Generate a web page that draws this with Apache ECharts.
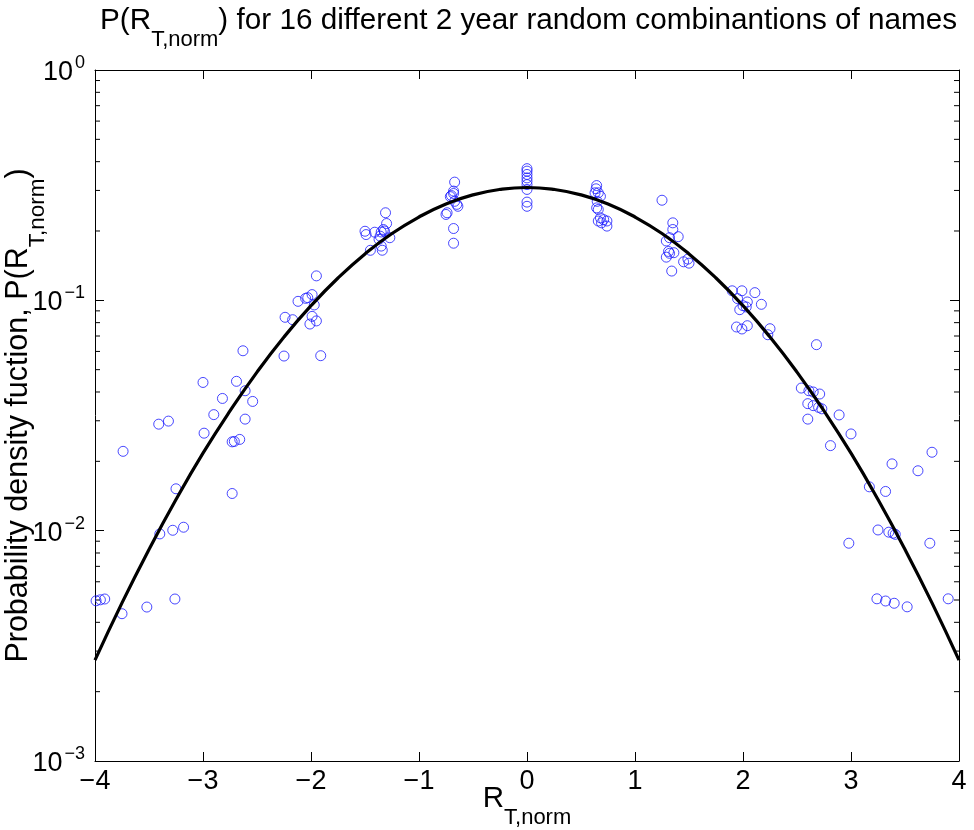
<!DOCTYPE html>
<html>
<head>
<meta charset="utf-8">
<script src="https://cdn.jsdelivr.net/npm/echarts@6.0.0/dist/echarts.min.js"></script>
<style>
  html, body { margin: 0; padding: 0; background: #fff; }
  #chart { width: 974px; height: 830px; }
</style>
</head>
<body>
<div id="chart"></div>
<script>
var ptsX = [
  -3.99, -3.95, -3.91, -3.75, -3.74, -3.52, -3.41, -3.40, -3.32, -3.28, -3.26, -3.25, -3.18,
  -3.00, -2.99, -2.90, -2.82, -2.73, -2.73, -2.71, -2.69, -2.66, -2.63, -2.61, -2.61, -2.54,
  -2.25, -2.24, -2.17, -2.12, -2.05, -2.03, -2.01, -1.99, -1.99, -1.97, -1.95, -1.95, -1.91,
  -1.50, -1.49, -1.45, -1.41, -1.37, -1.36, -1.35, -1.35, -1.34, -1.33, -1.32, -1.31, -1.30, -1.27,
  -0.75, -0.74, -0.71, -0.70, -0.68, -0.68, -0.68, -0.68, -0.67, -0.67, -0.65, -0.64,
  0, 0, 0, 0, 0, 0, 0, 0, 0,
  0.63, 0.64, 0.645, 0.645, 0.65, 0.66, 0.66, 0.66, 0.68, 0.68, 0.69, 0.71, 0.74, 0.74,
  1.25, 1.29, 1.29, 1.31, 1.32, 1.32, 1.34, 1.35, 1.35, 1.36, 1.40, 1.45, 1.49, 1.50,
  1.90, 1.99, 2.11, 1.95, 2.04, 2.17, 2.00, 2.03, 1.97, 1.94, 1.99, 2.04, 2.25, 2.23,
  2.68, 2.54, 2.61, 2.65, 2.71, 2.60, 2.65, 2.70, 2.73, 2.89, 2.60, 3.00, 2.81,
  3.75, 3.38, 3.62, 3.17, 3.32, 3.25, 3.35, 3.39, 3.41, 2.98, 3.73, 3.24, 3.32, 3.40, 3.52, 3.90
];
var ptsY = [
  0.00496, 0.00501, 0.00505, 0.00436, 0.0221, 0.00466, 0.0290, 0.00968, 0.0299, 0.01004, 0.00505, 0.0152, 0.01035,
  0.0440, 0.0265, 0.0319, 0.0375, 0.0145, 0.0243, 0.0244, 0.0445, 0.0249, 0.0604, 0.0405, 0.0305, 0.0364,
  0.0573, 0.0844, 0.0824, 0.0990, 0.1020, 0.1027, 0.0789, 0.1059, 0.0852, 0.0955, 0.1277, 0.0814, 0.0575,
  0.1995, 0.1930, 0.1649, 0.1976, 0.184, 0.190, 0.198, 0.172, 0.165, 0.203, 0.200, 0.240, 0.2155, 0.187,
  0.236, 0.240, 0.282, 0.285, 0.298, 0.205, 0.177, 0.291, 0.326, 0.269, 0.261, 0.256,
  0.373, 0.364, 0.352, 0.340, 0.329, 0.318, 0.303, 0.267, 0.256,
  0.293, 0.305, 0.315, 0.252, 0.269, 0.293, 0.248, 0.221, 0.283, 0.228, 0.217, 0.224, 0.221, 0.210,
  0.272, 0.181, 0.154, 0.163, 0.187, 0.160, 0.134, 0.217, 0.203, 0.161, 0.189, 0.147, 0.151, 0.145,
  0.110, 0.110, 0.108, 0.1017, 0.0984, 0.0961, 0.0948, 0.0936, 0.0911, 0.0766, 0.0751, 0.0776, 0.0753, 0.0709,
  0.0642, 0.0416, 0.0405, 0.0400, 0.0392, 0.0356, 0.0349, 0.0343, 0.0338, 0.0318, 0.0305, 0.0263, 0.0234,
  0.0219, 0.0195, 0.0182, 0.0155, 0.0148, 0.01007, 0.00985, 0.00975, 0.00964, 0.00882, 0.00882, 0.00506, 0.00495, 0.00484, 0.00467, 0.00506
];

// fitted curve
var curveX = [-4, -3.75, -3.5, -3.25, -3, -2.75, -2.5, -2.25, -2, -1.75, -1.5, -1.25, -1, -0.75, -0.5, -0.25,
  0, 0.25, 0.5, 0.75, 1, 1.25, 1.5, 1.75, 2, 2.25, 2.5, 2.75, 3, 3.25, 3.5, 3.75, 4];
var curveY = [0.00274, 0.00486, 0.00829, 0.01365, 0.0217, 0.0331, 0.0488, 0.0693, 0.0948, 0.125, 0.159, 0.195, 0.230, 0.262, 0.287, 0.303,
  0.309, 0.303, 0.287, 0.262, 0.230, 0.195, 0.159, 0.125, 0.0948, 0.0693, 0.0488, 0.0331, 0.0217, 0.01365, 0.00829, 0.00486, 0.00274];

var xMin = -4, xMax = 4;
var minorTicks = [0.002, 0.003, 0.004, 0.005, 0.006, 0.007, 0.008, 0.009,
  0.02, 0.03, 0.04, 0.05, 0.06, 0.07, 0.08, 0.09,
  0.2, 0.3, 0.4, 0.5, 0.6, 0.7, 0.8, 0.9];

var font = 'Liberation Sans, Arial, sans-serif';

// normal text + lowered subscript
function subRich(size, subSize, subLine) {
  return {
    n: { fontFamily: font, fontSize: size, fontWeight: 'normal', color: '#000', lineHeight: size + 4, verticalAlign: 'top' },
    s: { fontFamily: font, fontSize: subSize, fontWeight: 'normal', color: '#000', lineHeight: subLine, verticalAlign: 'bottom' }
  };
}

function pairs(xs, ys) {
  var out = [];
  for (var i = 0; i < xs.length; i++) out.push([xs[i], ys[i]]);
  return out;
}

function xLabel(v) {
  return v < 0 ? '\u2212' + Math.abs(v) : String(v);
}

function yLabel(v) {
  var e = Math.round(Math.log10(v));
  return '{b|10}{e|' + (e < 0 ? '\u2212' + Math.abs(e) : e) + '}';
}

var chart = echarts.init(document.getElementById('chart'));

var axisBase = {
  axisLine: { show: true, onZero: false, lineStyle: { color: '#000', width: 1 } },
  axisTick: { show: true, inside: true, length: 9, lineStyle: { color: '#000' } },
  splitLine: { show: false }
};

chart.setOption({
  animation: false,
  backgroundColor: '#fff',
  title: {
    text: '{n|P(R}{s|T,norm}{n|) for 16 different 2 year random combinantions of names}',
    left: 95,
    top: 1,
    textStyle: { fontWeight: 'normal', rich: subRich(29.7, 22, 45) }
  },
  grid: { left: 95, right: 15, top: 70, bottom: 69, containLabel: false, outerBoundsMode: 'none' },
  xAxis: [
    Object.assign({}, axisBase, {
      type: 'value', min: xMin, max: xMax, interval: 1, position: 'bottom',
      axisLabel: { fontFamily: font, fontSize: 27, color: '#000', margin: 7, formatter: xLabel },
      name: '{n|R}{s|T,norm}',
      nameLocation: 'middle',
      nameGap: 23,
      nameMoveOverlap: false,
      nameTextStyle: { rich: subRich(29.5, 22, 45) }
    }),
    Object.assign({}, axisBase, {
      type: 'value', min: xMin, max: xMax, interval: 1, position: 'top',
      axisLabel: { show: false }
    })
  ],
  yAxis: [
    Object.assign({}, axisBase, {
      type: 'log', logBase: 10, min: 0.001, max: 1, position: 'left',
      axisLabel: {
        margin: 10,
        formatter: yLabel,
        rich: {
          b: { fontFamily: font, fontSize: 27, color: '#000', lineHeight: 32, verticalAlign: 'bottom' },
          e: { fontFamily: font, fontSize: 18, color: '#000', lineHeight: 14, verticalAlign: 'top', padding: [0, 0, 0, 2] }
        }
      },
      name: '{n|Probability density fuction, P(R}{s|T,norm}{n|)}',
      nameLocation: 'middle',
      nameRotate: 90,
      nameGap: 46,
      nameMoveOverlap: false,
      nameTextStyle: { rich: subRich(30.5, 22.5, 46) }
    }),
    Object.assign({}, axisBase, {
      type: 'log', logBase: 10, min: 0.001, max: 1, position: 'right',
      axisLabel: { show: false }
    })
  ],
  series: [
    {
      // minor log ticks on left and right
      type: 'custom',
      silent: true,
      data: minorTicks.map(function (v) { return [xMin, v]; }),
      renderItem: function (params, api) {
        var l = api.coord([xMin, api.value(1)]);
        var r = api.coord([xMax, api.value(1)]);
        return {
          type: 'group',
          children: [
            { type: 'line', shape: { x1: l[0], y1: l[1], x2: l[0] + 5, y2: l[1] }, style: { stroke: '#000', lineWidth: 1 } },
            { type: 'line', shape: { x1: r[0], y1: r[1], x2: r[0] - 5, y2: r[1] }, style: { stroke: '#000', lineWidth: 1 } }
          ]
        };
      }
    },
    {
      type: 'scatter',
      data: pairs(ptsX, ptsY),
      symbol: 'circle',
      symbolSize: 10,
      itemStyle: { color: 'rgba(0,0,0,0)', borderColor: '#1a1aff', borderWidth: 1 },
      z: 3
    },
    {
      type: 'line',
      data: pairs(curveX, curveY),
      smooth: true,
      showSymbol: false,
      lineStyle: { color: '#000', width: 3.2 },
      z: 4
    }
  ]
});
</script>
</body>
</html>
